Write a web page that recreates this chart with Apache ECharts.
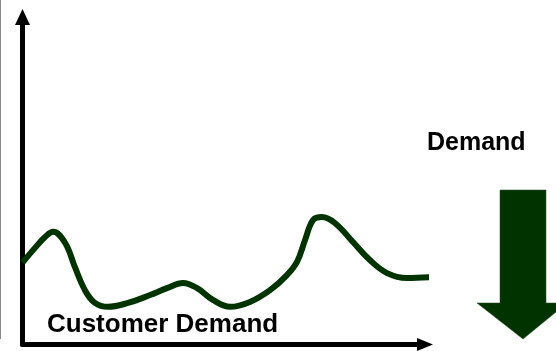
<!DOCTYPE html>
<html>
<head>
<meta charset="utf-8">
<script src="https://cdn.jsdelivr.net/npm/echarts@6/dist/echarts.min.js"></script>
<style>html,body{margin:0;padding:0;background:#fff}#c{width:556px;height:351px}</style>
</head>
<body>
<div id="c"></div>
<script>
// Time (arbitrary units 0..100) and demand level (0..100)
var timePoints = [0, 3.1, 5.6, 7.6, 10.6, 13.0, 15.5, 18.0, 21.2, 26.2, 31.7, 35.9, 39.9, 43.4, 47.3, 51.6, 56.5, 61.5, 65.7, 68.2, 70.2, 72.2, 74.4, 77.6, 82.1, 86.3, 90.6, 95.5, 101.7];
var demandValues = [25.0, 29.5, 32.8, 34.4, 31.0, 23.7, 16.6, 12.7, 11.5, 12.7, 15.1, 17.2, 18.8, 17.2, 13.6, 11.5, 13.0, 16.6, 21.2, 25.2, 31.9, 38.0, 38.9, 37.1, 31.3, 25.8, 21.8, 20.3, 20.6];
var curveLabel = 'Customer Demand';
var sideLabel = 'Demand';

var green = '#003300';
var seriesData = timePoints.map(function (t, i) { return [t, demandValues[i]]; });

var chart = echarts.init(document.getElementById('c'), null, {renderer: 'canvas'});
chart.setOption({
  animation: false,
  backgroundColor: '#ffffff',
  grid: {left: 22.5, right: 131, top: 17, bottom: 6.5, containLabel: false},
  xAxis: {
    type: 'value', min: 0, max: 100,
    axisLine: {show: true, onZero: false, symbol: ['none', 'triangle'], symbolSize: [13, 16],
      lineStyle: {color: '#000', width: 5}},
    axisTick: {show: false}, axisLabel: {show: false}, splitLine: {show: false}
  },
  yAxis: {
    type: 'value', min: 0, max: 100,
    axisLine: {show: true, onZero: false, symbol: ['none', 'triangle'], symbolSize: [15, 16],
      lineStyle: {color: '#000', width: 5}},
    axisTick: {show: false}, axisLabel: {show: false}, splitLine: {show: false}
  },
  series: [{
    type: 'line',
    data: seriesData,
    smooth: 0.4,
    showSymbol: false,
    clip: false,
    lineStyle: {color: green, width: 6, cap: 'butt', join: 'round'}
  }],
  graphic: [
    {type: 'line', shape: {x1: 0.5, y1: 0, x2: 0.5, y2: 339}, style: {stroke: '#888', lineWidth: 1}},
    {type: 'text', left: 47, top: 312, style: {text: curveLabel, font: 'bold 26px "Liberation Sans", Arial, sans-serif', fill: '#000'}},
    {type: 'text', left: 427, top: 131, style: {text: sideLabel, font: 'bold 25px "Liberation Sans", Arial, sans-serif', fill: '#000'}},
    {type: 'polygon', shape: {points: [[500, 190], [546, 190], [546, 303], [567, 303], [523, 339], [477, 303], [500, 303]]},
      style: {fill: green, stroke: '#2a4a2a', lineWidth: 0.5}}
  ]
});
</script>
</body>
</html>
